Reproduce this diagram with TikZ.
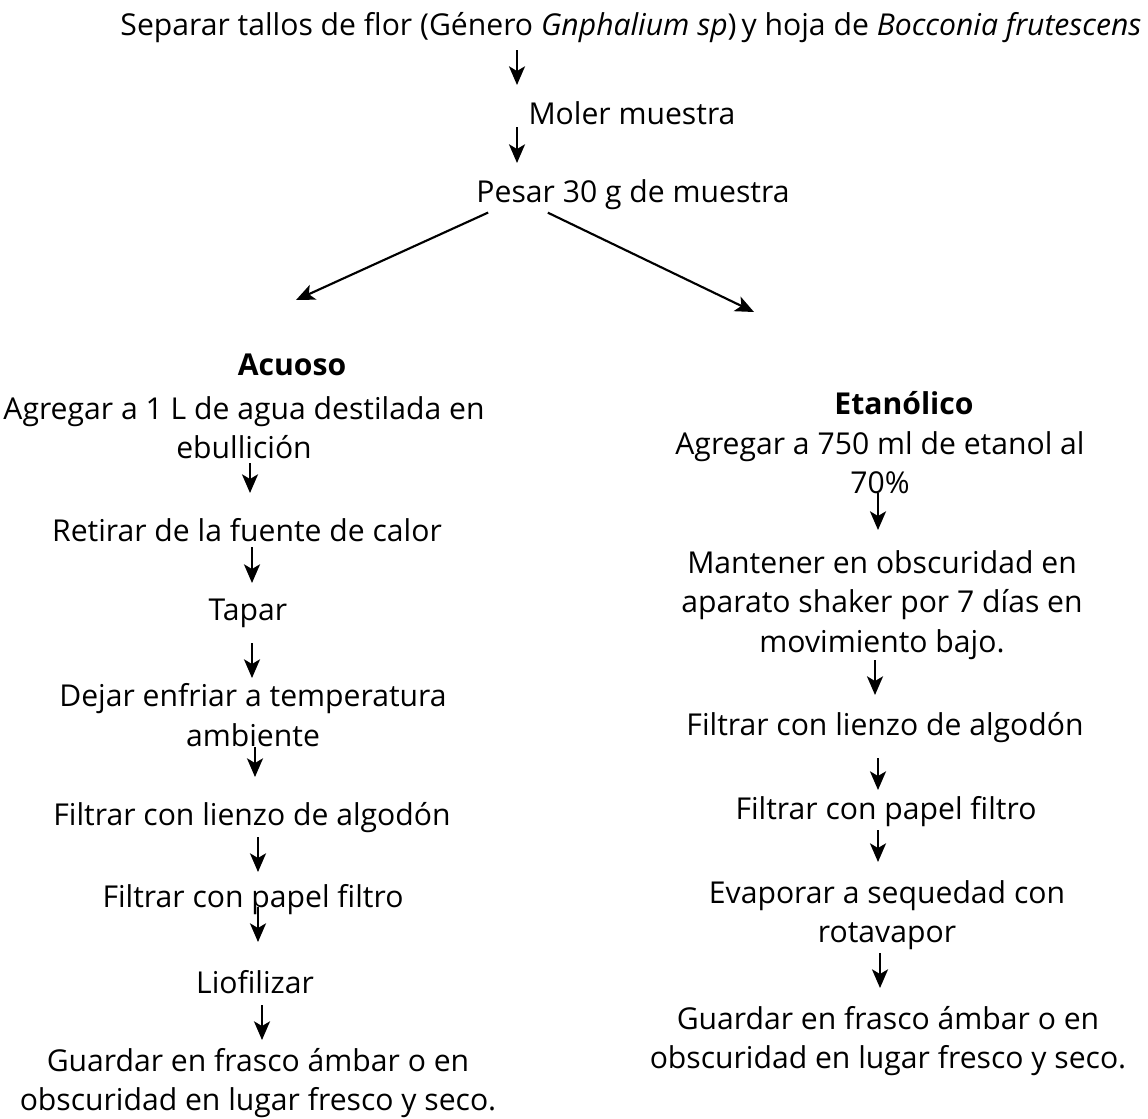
\documentclass[tikz,border=0pt]{standalone}
\usepackage{fontspec}
\setmainfont{Open Sans}
\usetikzlibrary{arrows.meta}
\begin{document}
\begin{tikzpicture}[x=0.75pt,y=-0.75pt,
  every node/.style={font=\fontsize{22.6}{29.5}\selectfont, align=center, inner sep=0pt},
  hd/.style={font=\fontsize{22.6}{29.5}\selectfont\bfseries},
  arr/.style={-{Stealth[length=14pt,width=12pt,inset=3.5pt]}, line width=1.6pt},
  sh/.style 2 args={shorten <=#1*0.75pt, shorten >=#2*0.75pt}]
\useasboundingbox (0,0) rectangle (1148,1118);

% top
\node (t0) at (631,28) {Separar tallos de flor (Género \textit{Gnphalium sp})\,y hoja de \textit{Bocconia frutescens}};
\node (t1) at (632,113) {Moler muestra};
\node (t2) at (633,195) {Pesar 30 g de muestra};
\coordinate (la) at (296,300);
\coordinate (ra) at (754,312);

% left column
\node[hd] (acu) at (292,365) {Acuoso};
\node (ag1) at (244,428) {Agregar a 1 L de agua destilada en\\ebullición};
\node (ret) at (247,530) {Retirar de la fuente de calor};
\node (tap) at (248,613) {Tapar};
\node (dej) at (253,715) {Dejar enfriar a temperatura\\ambiente};
\node (fl1) at (252,818) {Filtrar con lienzo de algodón};
\node (fp1) at (253,900) {Filtrar con papel filtro};
\node (lio) at (255,982) {Liofilizar};
\node (gu1) at (258,1083) {Guardar en frasco ámbar o en\\obscuridad en lugar fresco y seco.};

% right column
\node[hd] (eta) at (904,403) {Etanólico};
\node (ag2) at (880,463) {Agregar a 750 ml de etanol al\\70\%};
\node (man) at (882,605) {Mantener en obscuridad en\\aparato shaker por 7 días en\\movimiento bajo.};
\node (fl2) at (885,728) {Filtrar con lienzo de algodón};
\node (fp2) at (886,812) {Filtrar con papel filtro};
\node (eva) at (887,915) {Evaporar a sequedad con\\rotavapor};
\node (gu2) at (888,1041) {Guardar en frasco ámbar o en\\obscuridad en lugar fresco y seco.};

% top arrows
\draw[arr, sh={22}{28}] (t0.center -| 517,0) -- (t1.center -| 517,0);
\draw[arr, sh={14}{32}] (t1.center -| 517,0) -- (t2.center -| 517,0);
\draw[arr, shorten <=4pt] (t2.south -| 493,0) -- (la);
\draw[arr, shorten <=4pt] (t2.south -| 543,0) -- (ra);

% left arrows
\draw[arr, sh={35}{37}] (ag1.center -| 250,0) -- (ret.center -| 250,0);
\draw[arr, sh={17}{30}] (ret.center -| 252,0) -- (tap.center -| 252,0);
\draw[arr, sh={30}{37}] (tap.center -| 252,0) -- (dej.center -| 252,0);
\draw[arr, sh={32}{41}] (dej.center -| 255,0) -- (fl1.center -| 255,0);
\draw[arr, sh={19}{28}] (fl1.center -| 258,0) -- (fp1.center -| 258,0);
\draw[arr, sh={7}{40}] (fp1.center -| 258,0) -- (lio.center -| 258,0);
\draw[arr, sh={23}{43}] (lio.center -| 262,0) -- (gu1.center -| 262,0);

% right arrows
\draw[arr, sh={30}{75}] (ag2.center -| 878,0) -- (man.center -| 878,0);
\draw[arr, sh={55}{33}] (man.center -| 875,0) -- (fl2.center -| 875,0);
\draw[arr, sh={30}{22}] (fl2.center -| 878,0) -- (fp2.center -| 878,0);
\draw[arr, sh={18}{53}] (fp2.center -| 878,0) -- (eva.center -| 878,0);
\draw[arr, sh={38}{53}] (eva.center -| 880,0) -- (gu2.center -| 880,0);
\end{tikzpicture}
\end{document}
